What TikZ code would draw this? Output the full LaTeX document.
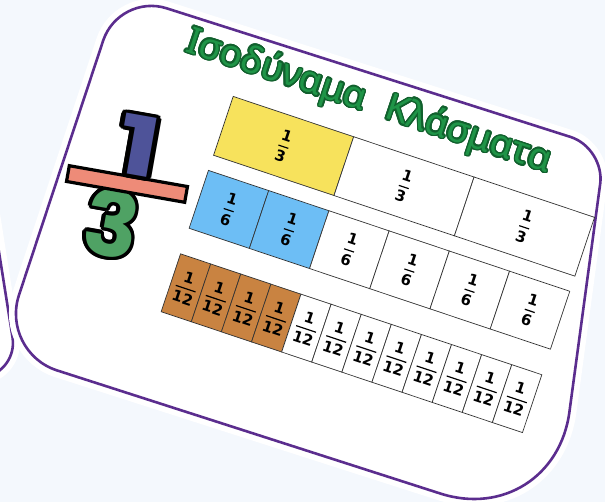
\documentclass[tikz,border=0pt]{standalone}
\usepackage{fontspec}
\usepackage{amsmath}
\newfontfamily\fracfont{DejaVu Sans}
\newfontfamily\titlefont{Noto Sans}
\newfontfamily\numfont{Poppins}
\definecolor{bgB}{HTML}{F4F8FD}
\definecolor{cardP}{HTML}{5B2D8E}
\definecolor{yelF}{HTML}{F7E25C}
\definecolor{bluF}{HTML}{6DBEF5}
\definecolor{brnF}{HTML}{C98341}
\definecolor{ttlG}{HTML}{1F9447}
\definecolor{ttlD}{HTML}{11602D}
\definecolor{oneB}{HTML}{4E5399}
\definecolor{barS}{HTML}{EE8B78}
\definecolor{threeG}{HTML}{4FA264}
\newcommand{\fr}[2]{$\genfrac{}{}{1.2pt}{0}{\text{#1}}{\text{#2}}$}

\begin{document}
\begin{tikzpicture}[x=1pt, y=-1pt,
    card/.style={draw=cardP, line width=2.6pt},
    halo/.style={draw=white, fill=white, line width=14pt},
    cell/.style={draw=black!80, line width=0.7pt, anchor=north west, inner sep=0pt,
      transform shape, font=\fracfont\bfseries\fontsize{15}{17}\selectfont},
    third/.style={cell, minimum width=127pt, minimum height=62pt},
    sixth/.style={cell, minimum width=63.5pt, minimum height=61pt},
    twelfth/.style={cell, minimum width=31.75pt, minimum height=61pt},
    head/.style={font=\titlefont\bfseries\fontsize{37}{40}\selectfont, anchor=base,
      inner sep=0pt, transform shape},
    digit/.style={font=\numfont\bfseries\fontsize{#1}{#1}\selectfont, inner sep=0pt, rotate=-10},
    bar/.style={rectangle, fill=barS, draw=black, line width=3.2pt,
      minimum width=120pt, minimum height=16pt, rotate=-10},
  ]

  % lettering with a rim: #1 name, #2 at, #3 style, #4 fill, #5 rim, #6 rim width, #7 text
  \newcommand{\rimmed}[7]{%
    \foreach \a in {0,22.5,...,337.5}
      \node[#3, text=#5, shift={(\a:#6)}] at (#2) {#7};
    \node[#3, text=#4] (#1) at (#2) {#7};}

  \useasboundingbox (0,0) rectangle (605,502);
  \clip (0,0) rectangle (605,502);
  \fill[bgB] (0,0) rectangle (605,502);

  % card behind, left edge
  \begin{scope}[shift={(18,372)}, rotate=9]
    \draw[halo, rounded corners=35pt] (-320,-420) rectangle (0,0);
    \draw[card, rounded corners=35pt] (-320,-420) rectangle (0,0);
  \end{scope}

  % the card
  \draw[halo] (166.6,8.3) -- (570.7,137) .. controls (589.6,143.1) and (602.8,164.1) .. (600.2,183.7)
    -- (569.4,412) .. controls (560.7,476.9) and (502.5,513.6) .. (440.2,493.5)
    -- (57,370.4) .. controls (25.7,360.3) and (8.6,326.4) .. (19,295)
    -- (103.2,40.5) .. controls (111.9,14.4) and (140.4,-0.1) .. (166.6,8.3) -- cycle;
  \draw[card] (166.6,8.3) -- (570.7,137) .. controls (589.6,143.1) and (602.8,164.1) .. (600.2,183.7)
    -- (569.4,412) .. controls (560.7,476.9) and (502.5,513.6) .. (440.2,493.5)
    -- (57,370.4) .. controls (25.7,360.3) and (8.6,326.4) .. (19,295)
    -- (103.2,40.5) .. controls (111.9,14.4) and (140.4,-0.1) .. (166.6,8.3) -- cycle;

  % big 1/3
  \rimmed{three}{112,223}{digit=90}{threeG}{black}{3.6pt}{3}
  \node[bar] (rule) at (127,184) {};
  \rimmed{one}{139,146}{digit=82, xscale=1.35}{oneB}{black}{3.6pt}{1}

  \begin{scope}[shift={(233,96)}, rotate=-18.5]
    \rimmed{head}{131,-27}{head}{ttlG}{ttlD}{1.5pt}{Ισοδύναμα\hspace{22pt}Κλάσματα}

    \foreach \i/\c in {0/yelF,1/white,2/white}
      \node[third, fill=\c] (t\i) at ({\i*127},0) {\fr{1}{3}};
    \foreach \i/\c in {0/bluF,1/bluF,2/white,3/white,4/white,5/white}
      \node[sixth, fill=\c] (s\i) at ({\i*63.5},78) {\fr{1}{6}};
    \foreach \i in {0,...,11} {
      \ifnum\i<4 \def\c{brnF}\else\def\c{white}\fi
      \node[twelfth, fill=\c] (w\i) at ({\i*31.75},166) {\fr{1}{12}};
    }
  \end{scope}

\end{tikzpicture}
\end{document}
